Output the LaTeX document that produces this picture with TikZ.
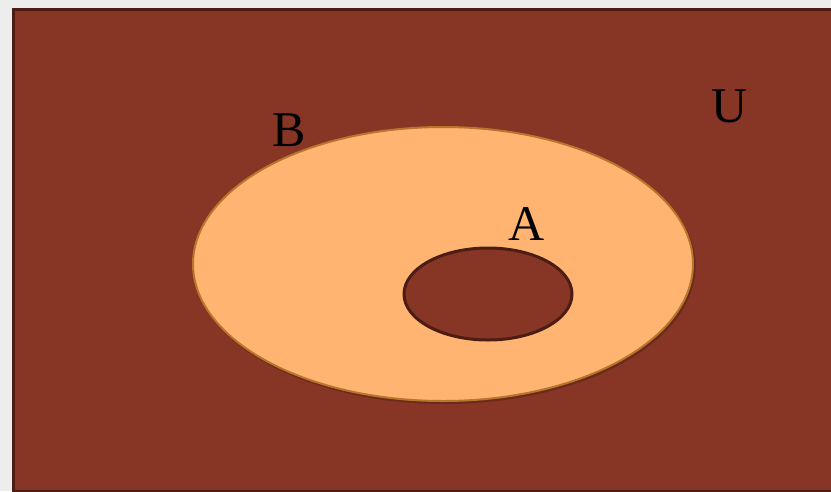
\documentclass[tikz,border=0pt]{standalone}
\usepackage{fontspec}
\setmainfont{Liberation Serif}
\usetikzlibrary{shapes.geometric}
\definecolor{bgpage}{HTML}{EDEDED}
\definecolor{ufill}{HTML}{873525}
\definecolor{uedge}{HTML}{4C1D12}
\definecolor{bfill}{HTML}{FFB571}
\definecolor{bedge}{HTML}{B8752C}
\tikzset{
  setlabel/.style={anchor=base, inner sep=0pt, font=\fontsize{50}{50}\selectfont, text=black},
}
\begin{document}
\begin{tikzpicture}[x=1pt,y=-1pt]
\useasboundingbox (0,0) rectangle (831,491);
\fill[bgpage] (0,0) rectangle (831,491);
\begin{scope}
\clip (0,0) rectangle (831,491);
\node[draw=uedge, line width=3pt, fill=ufill, rectangle, minimum width=822pt, minimum height=482pt, inner sep=0pt, anchor=north west] (U) at (11.5,7.5) {};
\fill[uedge, opacity=0.45] (444.5,266) ellipse [x radius=251, y radius=138];
\node[draw=bedge, line width=2pt, fill=bfill, ellipse, minimum width=500pt, minimum height=274pt, inner sep=0pt] (B) at (443,264) {};
\node[draw=uedge, line width=3pt, fill=ufill, ellipse, minimum width=168pt, minimum height=92pt, inner sep=0pt] (A) at (488,294) {};
\end{scope}
\node[setlabel] (lB) at (289,146) {B};
\node[setlabel] (lU) at (730,122) {U};
\node[setlabel] (lA) at (527,240) {A};
\end{tikzpicture}
\end{document}
